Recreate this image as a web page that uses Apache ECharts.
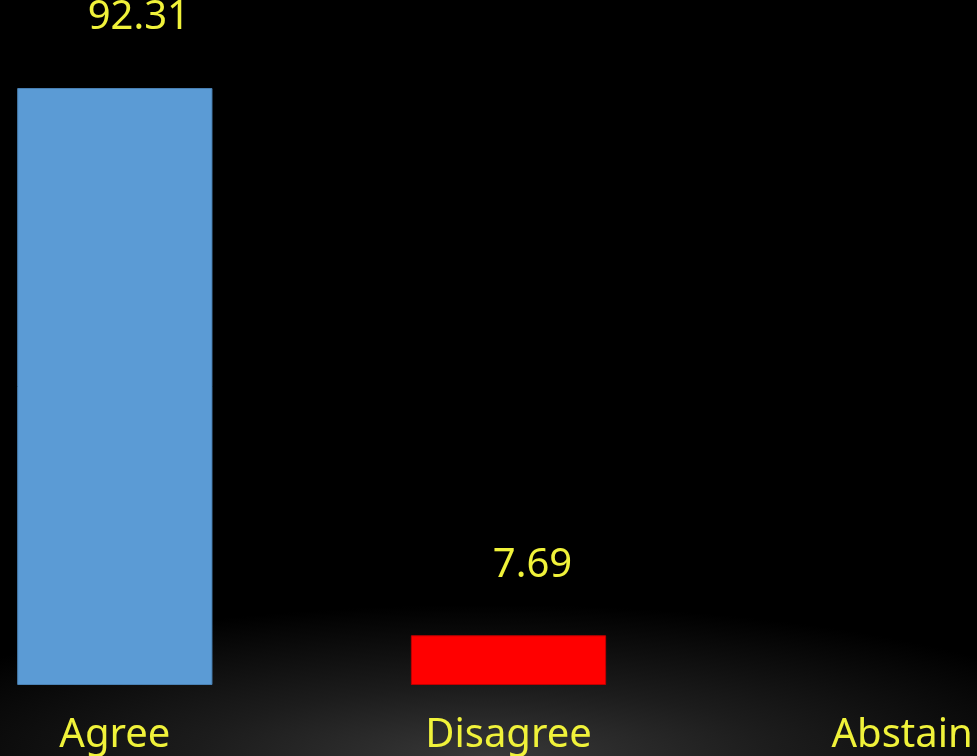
<!DOCTYPE html>
<html>
<head>
<meta charset="utf-8">
<script src="https://cdn.jsdelivr.net/npm/echarts@6/dist/echarts.min.js"></script>
<style>
  html, body { margin: 0; padding: 0; }
  body {
    position: relative;
    width: 977px; height: 756px; overflow: hidden;
    background: radial-gradient(ellipse 66% 20% at 50% 100%, #383838 0%, #1c1c1c 45%, #000 100%);
  }
  /* The plot is wider than the page so the outer bars sit near the edges */
  #chart { position: absolute; left: -82px; top: 0; width: 1181px; height: 756px; }
</style>
</head>
<body>
<div id="chart"></div>
<script>
// Vote results (percent of ballots)
const categories = ['Agree', 'Disagree', 'Abstain'];
const values = [92.31, 7.69, 0];
const barColors = ['#5B9BD5', '#FF0000', '#A5A5A5'];
const barBorders = ['#4A82B5', '#C00000', '#808080'];

const chart = echarts.init(document.getElementById('chart'), null, { renderer: 'canvas' });

const textColor = '#F0F23A';
const fontFamily = '"Noto Sans", "Open Sans", sans-serif';

chart.setOption({
  backgroundColor: 'transparent',
  animation: false,
  grid: { left: 0, right: 0, top: 38.3, bottom: 71, containLabel: false },
  xAxis: {
    type: 'category',
    data: categories,
    axisLine: { show: false },
    axisTick: { show: false },
    axisLabel: {
      color: textColor,
      fontSize: 40,
      fontFamily: fontFamily,
      margin: 31
    }
  },
  yAxis: {
    type: 'value',
    min: 0,
    max: 100,
    show: false,
    splitLine: { show: false }
  },
  series: [{
    type: 'bar',
    barWidth: '49.6%',
    data: values.map((v, i) => ({
      value: v,
      itemStyle: {
        color: barColors[i],
        borderColor: barBorders[i],
        borderWidth: v > 0 ? 1 : 0
      },
      label: { show: v > 0 }
    })),
    label: {
      show: true,
      position: 'top',
      distance: 50,
      offset: [24, 0],
      color: textColor,
      fontSize: 40,
      fontFamily: fontFamily,
      formatter: p => p.value.toFixed(2)
    }
  }]
});
</script>
</body>
</html>
